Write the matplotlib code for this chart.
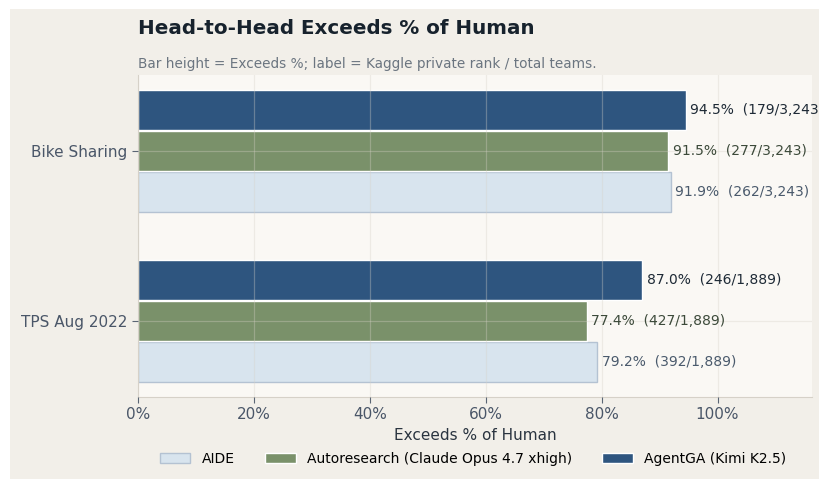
import numpy as np
import matplotlib
matplotlib.use("Agg")
import matplotlib.pyplot as plt
from matplotlib.patches import Rectangle

tasks = ["Bike Sharing", "TPS Aug 2022"]
systems = ["AIDE", "Autoresearch (Claude Opus 4.7 xhigh)", "AgentGA (Kimi K2.5)"]
exceeds = {
    "AIDE": [91.9, 79.2],
    "Autoresearch (Claude Opus 4.7 xhigh)": [91.5, 77.4],
    "AgentGA (Kimi K2.5)": [94.5, 87.0],
}
ranks = {
    "AIDE": [262, 392],
    "Autoresearch (Claude Opus 4.7 xhigh)": [277, 427],
    "AgentGA (Kimi K2.5)": [179, 246],
}
totals = [3243, 1889]

colors = ["#d8e4ee", "#7a916a", "#2e557f"]
edges = ["#b4c2d2", "#ffffff", "#ffffff"]
label_colors = ["#4a5a6c", "#3c4a3a", "#1e2a36"]

fig = plt.figure(figsize=(8.2, 4.79), dpi=100, facecolor="white")
fig.patches.append(Rectangle((10 / 820, 0), 1, 1 - 9 / 479, transform=fig.transFigure,
                             facecolor="#f2efe9", edgecolor="none", zorder=-10))
ax = fig.add_axes([138 / 820, 1 - 397 / 479, (812 - 138) / 820, (397 - 75) / 479])
ax.set_facecolor("#faf8f4")

y = np.arange(len(tasks))
h = 0.24
offsets = [h, 0, -h]
for i, s in enumerate(systems):
    vals = exceeds[s]
    ax.barh(y + offsets[i], vals, height=h - 0.005, color=colors[i], edgecolor=edges[i],
            linewidth=1.0, label=s, zorder=2)
    for j, v in enumerate(vals):
        ax.text(v + 0.8, y[j] + offsets[i], f"{v:.1f}%  ({ranks[s][j]}/{totals[j]:,})",
                va="center", ha="left", fontsize=10, color=label_colors[i], zorder=4)

ax.invert_yaxis()
ax.set_yticks(y)
ax.set_yticklabels(tasks)
ax.set_xlim(0, 116.3)
ax.set_xticks([0, 20, 40, 60, 80, 100])
ax.set_xticklabels([f"{t}%" for t in [0, 20, 40, 60, 80, 100]])
ax.tick_params(colors="#5a6574", labelsize=11, length=4)
ax.tick_params(axis="both", labelcolor="#4a5668")
ax.grid(True, color="#d6d1c8", alpha=0.35, linewidth=0.9, zorder=3)
ax.set_axisbelow(False)
for sp in ["top", "right"]:
    ax.spines[sp].set_visible(False)
for sp in ["left", "bottom"]:
    ax.spines[sp].set_color("#d6d1c8")

ax.set_xlabel("Exceeds % of Human", fontsize=11, color="#2a3440", labelpad=4)

fig.text(138 / 820, 1 - 29 / 479, "Head-to-Head Exceeds % of Human", fontsize=14.3,
         fontweight="bold", color="#17222d", va="center", ha="left")
fig.text(138 / 820, 1 - 64 / 479, "Bar height = Exceeds %; label = Kaggle private rank / total teams.",
         fontsize=9.8, color="#6b7580", va="center", ha="left")

handles, labels = ax.get_legend_handles_labels()
fig.legend(handles, labels, loc="center", bbox_to_anchor=(473 / 820, 1 - 459 / 479), ncol=3,
           frameon=False, fontsize=10, handlelength=2.2, columnspacing=2.2)

fig.savefig("out.png", dpi=100, facecolor=fig.get_facecolor())
